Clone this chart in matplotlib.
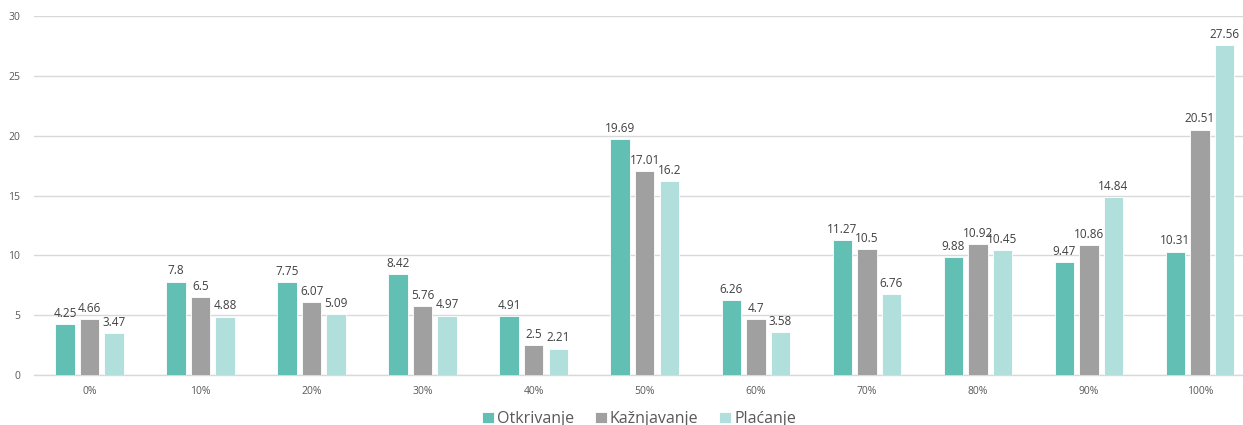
import numpy as np
import matplotlib.pyplot as plt

categories = ['0%', '10%', '20%', '30%', '40%', '50%', '60%', '70%', '80%', '90%', '100%']
otkrivanje = [4.25, 7.8, 7.75, 8.42, 4.91, 19.69, 6.26, 11.27, 9.88, 9.47, 10.31]
kaznjavanje = [4.66, 6.5, 6.07, 5.76, 2.5, 17.01, 4.7, 10.5, 10.92, 10.86, 20.51]
placanje = [3.47, 4.88, 5.09, 4.97, 2.21, 16.2, 3.58, 6.76, 10.45, 14.84, 27.56]

series = [('Otkrivanje', otkrivanje, '#62BFB4'),
          ('Kažnjavanje', kaznjavanje, '#A0A0A0'),
          ('Plaćanje', placanje, '#B0DFDC')]

plt.rcParams['font.family'] = ['Open Sans', 'DejaVu Sans']

W, H = 1243, 425
fig = plt.figure(figsize=(W / 100, H / 100), dpi=100)
left, right, top, bottom = 34, 1255.5, 16, 375
ax = fig.add_axes([left / W, 1 - bottom / H, (right - left) / W, (bottom - top) / H])

x = np.arange(len(categories))
width = 0.175
step = 0.221
for i, (name, vals, color) in enumerate(series):
    bars = ax.bar(x + (i - 1) * step, vals, width, color=color, label=name,
                  edgecolor='white', linewidth=0.6, zorder=3)
    ax.bar_label(bars, labels=[f'{v:g}' for v in vals], padding=3,
                 fontsize=8.5, color='#404040')

ax.set_xlim(-0.5, len(categories) - 0.5)
ax.set_ylim(0, 30)
ax.set_yticks(range(0, 31, 5))
ax.set_xticks(x)
ax.set_xticklabels(categories)
ax.grid(axis='y', color='#D9D9D9', linewidth=1, zorder=0)
for s in ['top', 'right', 'left']:
    ax.spines[s].set_visible(False)
ax.spines['bottom'].set_color('#D9D9D9')
ax.spines['bottom'].set_linewidth(1)
ax.tick_params(axis='both', length=0, labelsize=7.5, labelcolor='#595959')
ax.tick_params(axis='y', pad=10)
ax.tick_params(axis='x', pad=8)

fig.legend(loc='center', bbox_to_anchor=(0.514, 1 - 419 / H), ncol=3, frameon=False,
           fontsize=11.5, handlelength=0.75, handleheight=0.75, handletextpad=0.2,
           columnspacing=1.3, labelcolor='#595959')

fig.savefig('out.png', dpi=100)
